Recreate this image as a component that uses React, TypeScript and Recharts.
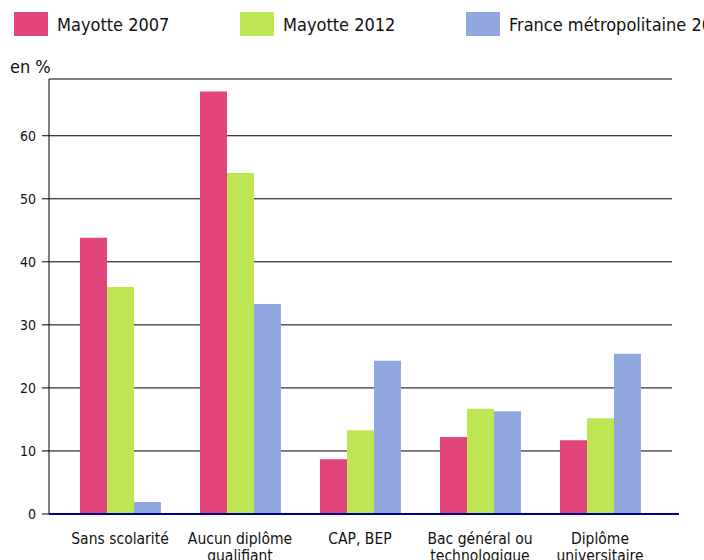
import { BarChart, Bar, XAxis, YAxis, CartesianGrid, ReferenceLine } from "recharts";

const categories = [
  "Sans scolarité",
  "Aucun diplôme\nqualifiant",
  "CAP, BEP",
  "Bac général ou\ntechnologique",
  "Diplôme\nuniversitaire",
];
const mayotte2007 = [43.8, 67.0, 8.7, 12.2, 11.7];
const mayotte2012 = [36.0, 54.1, 13.3, 16.7, 15.2];
const france2011 = [1.9, 33.3, 24.3, 16.3, 25.4];
const yTicks = [0, 10, 20, 30, 40, 50, 60];

const FONT = "'DejaVu Sans Condensed', 'DejaVu Sans', sans-serif";

const series = [
  { key: "m2007", name: "Mayotte 2007", color: "#E2447C" },
  { key: "m2012", name: "Mayotte 2012", color: "#BEE653" },
  { key: "fr", name: "France métropolitaine 2011", color: "#90A8DF" },
];

const data = categories.map((c, i) => ({
  name: c,
  m2007: mayotte2007[i],
  m2012: mayotte2012[i],
  fr: france2011[i],
}));

function XTick(props: any) {
  const { x, y, payload } = props;
  const lines = String(payload.value).split("\n");
  return (
    <text x={x} y={y} textAnchor="middle" fontSize={15.5} fontFamily={FONT} fill="#111">
      {lines.map((l, i) => (
        <tspan key={i} x={x} dy={i === 0 ? 22 : 17}>
          {l}
        </tspan>
      ))}
    </text>
  );
}

export default function App() {
  return (
    <div style={{ position: "fixed", left: 0, top: 0, width: 704, height: 560, background: "#fff", overflow: "hidden" }}>
      {series.map((s, i) => (
        <div key={s.key} style={{ position: "absolute", left: 14 + i * 226, top: 12, display: "flex", alignItems: "center", whiteSpace: "nowrap" }}>
          <div style={{ width: 34, height: 24, background: s.color }} />
          <span style={{ marginLeft: 9, fontFamily: FONT, fontSize: 18, color: "#111" }}>{s.name}</span>
        </div>
      ))}
      <div style={{ position: "absolute", left: 10, top: 56, fontFamily: FONT, fontSize: 18, color: "#111" }}>en %</div>
      <BarChart
        width={704}
        height={560}
        data={data}
        margin={{ top: 79, right: 32, left: 0, bottom: 0 }}
        barCategoryGap={20}
        barGap={0}
      >
        <CartesianGrid vertical={false} stroke="#000" strokeWidth={1} />
        <XAxis
          dataKey="name"
          height={46}
          axisLine={false}
          tickLine={false}
          interval={0}
          padding={{ left: 11, right: 12 }}
          tick={<XTick />}
        />
        <YAxis
          domain={[0, 69]}
          ticks={yTicks}
          width={49}
          tickSize={7}
          tickMargin={6}
          axisLine={{ stroke: "#000" }}
          tickLine={{ stroke: "#000" }}
          tick={{ fontSize: 14, fontFamily: FONT, fill: "#111" }}
        />
        {series.map((s) => (
          <Bar key={s.key} dataKey={s.key} name={s.name} fill={s.color} isAnimationActive={false} />
        ))}
        <ReferenceLine
          y={0}
          ifOverflow="visible"
          shape={(p: any) => (
            <line x1={p.x1} y1={p.y1} x2={p.x2 + 7} y2={p.y2} stroke="#00008B" strokeWidth={2} />
          )}
        />
      </BarChart>
    </div>
  );
}
